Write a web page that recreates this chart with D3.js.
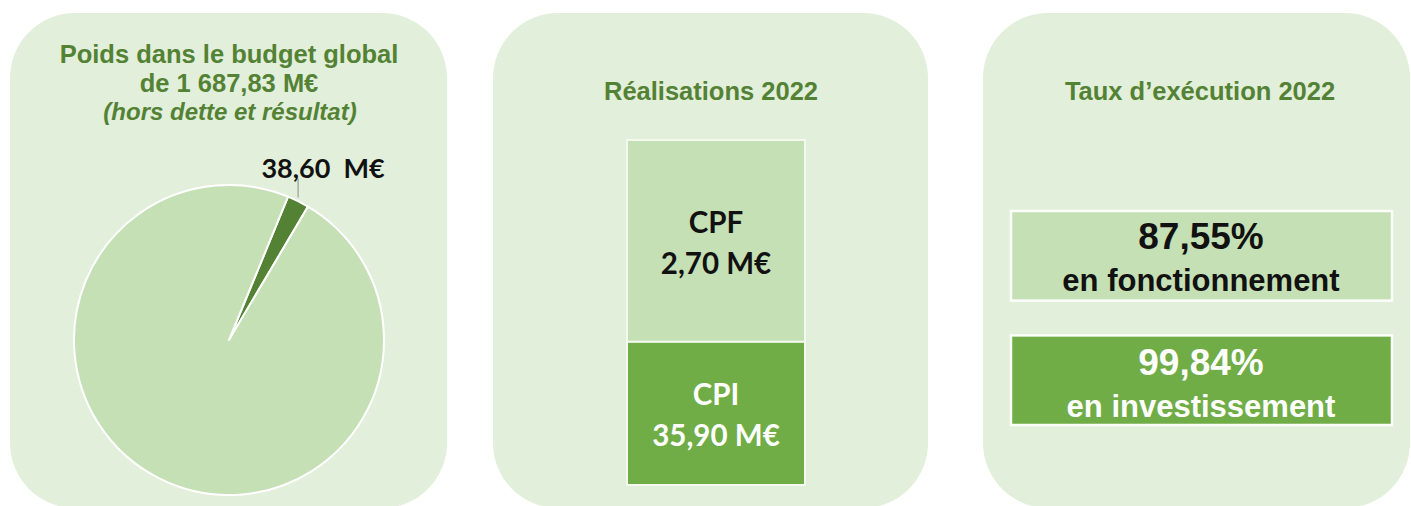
<!DOCTYPE html>
<html>
<head>
<meta charset="utf-8">
<script src="https://cdn.jsdelivr.net/npm/d3@7"></script>
<style>
  body { margin: 0; background: #fff; }
  svg { display: block; }
</style>
</head>
<body>
<div id="chart"></div>
<script>
// data
var budgetTotal = 1687.83;
var pieCats = ["Chapitre", "Reste du budget"];
var pieValues = [38.60, 1649.23];
var realCats = ["CPF", "CPI"];
var realValues = [2.70, 35.90];
var tauxLabels = ["en fonctionnement", "en investissement"];
var tauxValues = [87.55, 99.84];

var fr = d3.formatLocale({decimal: ",", thousands: "\u00a0", grouping: [3], currency: ["", " M€"]});
var fmt2 = fr.format(",.2f");

var width = 1411, height = 506;
var titleFont = "'Liberation Sans', Arial, sans-serif";
var labelFont = "Lato, 'Open Sans', sans-serif";
var green = "#548235", light = "#c5e0b4", mid = "#70ad47", panelBg = "#e2efda";

var svg = d3.select("#chart").append("svg")
    .attr("width", width)
    .attr("height", height);

// the three rounded panels
var panels = [{x: 10, w: 437}, {x: 493, w: 435}, {x: 983, w: 427}];
svg.selectAll(".panel")
    .data(panels)
    .enter().append("rect")
    .attr("class", "panel")
    .attr("x", function(d) { return d.x; })
    .attr("y", 13)
    .attr("width", function(d) { return d.w; })
    .attr("height", 495)
    .attr("rx", 65)
    .attr("fill", panelBg);

function title(x, y, txt, italic, size) {
  svg.append("text")
    .attr("x", x).attr("y", y)
    .attr("text-anchor", "middle")
    .style("font-family", titleFont)
    .style("font-size", (size || 25.5) + "px")
    .style("font-weight", "bold")
    .style("font-style", italic ? "italic" : "normal")
    .attr("fill", green)
    .text(txt);
}

// ---- panel 1 : pie
title(229, 63, "Poids dans le budget global");
title(229, 92, "de " + fmt2(budgetTotal) + " M€");
title(230, 120, "(hors dette et résultat)", true, 24);

var radius = 155;
var startA = 22.4 * Math.PI / 180;
var pie = d3.pie()
    .sort(null)
    .startAngle(startA)
    .endAngle(startA + 2 * Math.PI)
    .value(function(d) { return d; });
var arc = d3.arc().outerRadius(radius).innerRadius(0);
var pieColor = d3.scaleOrdinal().domain(pieCats).range([green, light]);

var pg = svg.append("g").attr("transform", "translate(229,340)");
var arcs = pie(pieValues);
pg.selectAll("path")
    .data(arcs)
    .enter().append("path")
    .attr("d", arc)
    .attr("fill", function(d, i) { return pieColor(pieCats[i]); })
    .attr("stroke", "#fff")
    .attr("stroke-width", 2)
    .attr("stroke-linejoin", "round");

// leader + label for the small slice
var a0 = arcs[0];
var outer = d3.arc().outerRadius(radius + 2).innerRadius(radius + 2).centroid(a0);
pg.append("line")
    .attr("x1", outer[0] - 1).attr("y1", outer[1] - 2)
    .attr("x2", outer[0] - 1).attr("y2", outer[1] - 21)
    .attr("stroke", "#8c8c8c")
    .attr("stroke-width", 1);
pg.append("text")
    .attr("x", outer[0] + 24).attr("y", outer[1] - 22)
    .attr("text-anchor", "middle")
    .style("font-family", labelFont)
    .style("font-size", "27px")
    .style("font-weight", "bold")
    .style("white-space", "pre")
    .attr("fill", "#111")
    .text(fr.format(".2f")(pieValues[0]) + "  M€");

// ---- panel 2 : stacked block
title(711, 100, "Réalisations 2022");

var barX = 627, barW = 178;
var cpfShare = 0.585; // visual split used in the original
var y = d3.scaleLinear().domain([0, 1]).range([140, 485]);
var blocks = realCats.map(function(c, i) {
  return {cat: c, val: realValues[i], y0: i === 0 ? 0 : cpfShare, y1: i === 0 ? cpfShare : 1};
});
var bg = svg.selectAll(".block")
    .data(blocks)
    .enter().append("g")
    .attr("class", "block");
bg.append("rect")
    .attr("x", barX)
    .attr("y", function(d) { return y(d.y0); })
    .attr("width", barW)
    .attr("height", function(d) { return y(d.y1) - y(d.y0); })
    .attr("fill", function(d, i) { return i === 0 ? light : mid; })
    .attr("stroke", "#f4f9f0")
    .attr("stroke-width", 2);
bg.append("text")
    .attr("x", barX + barW / 2)
    .attr("y", function(d) { return (y(d.y0) + y(d.y1)) / 2 - 8; })
    .attr("text-anchor", "middle")
    .style("font-family", labelFont)
    .style("font-size", "29.5px")
    .style("font-weight", "bold")
    .attr("fill", function(d, i) { return i === 0 ? "#111" : "#fff"; })
    .text(function(d) { return d.cat; });
bg.append("text")
    .attr("x", barX + barW / 2)
    .attr("y", function(d) { return (y(d.y0) + y(d.y1)) / 2 + 33; })
    .attr("text-anchor", "middle")
    .style("font-family", labelFont)
    .style("font-size", "29.5px")
    .style("font-weight", "bold")
    .attr("fill", function(d, i) { return i === 0 ? "#111" : "#fff"; })
    .text(function(d) { return fr.format(".2f")(d.val) + " M€"; });

// ---- panel 3 : execution rates
title(1200, 100, "Taux d’exécution 2022");

var band = d3.scaleBand()
    .domain(tauxLabels)
    .range([211, 425])
    .paddingInner(0.28);
var tg = svg.selectAll(".taux")
    .data(tauxLabels)
    .enter().append("g")
    .attr("class", "taux")
    .attr("transform", function(d) { return "translate(1011," + band(d) + ")"; });
tg.append("rect")
    .attr("width", 381)
    .attr("height", band.bandwidth())
    .attr("fill", function(d, i) { return i === 0 ? light : mid; })
    .attr("stroke", "#fafdf8")
    .attr("stroke-width", 2.5);
tg.append("text")
    .attr("x", 190)
    .attr("y", function(d, i) { return i === 0 ? 38 : 40; })
    .attr("text-anchor", "middle")
    .style("font-family", titleFont)
    .style("font-size", "37px")
    .style("font-weight", "bold")
    .attr("fill", function(d, i) { return i === 0 ? "#111" : "#fff"; })
    .text(function(d, i) { return fr.format(".2f")(tauxValues[i]) + "%"; });
tg.append("text")
    .attr("x", 190)
    .attr("y", function(d, i) { return i === 0 ? 80 : 82; })
    .attr("text-anchor", "middle")
    .style("font-family", titleFont)
    .style("font-size", "31px")
    .style("font-weight", "bold")
    .attr("fill", function(d, i) { return i === 0 ? "#111" : "#fff"; })
    .text(function(d) { return d; });
</script>
</body>
</html>
